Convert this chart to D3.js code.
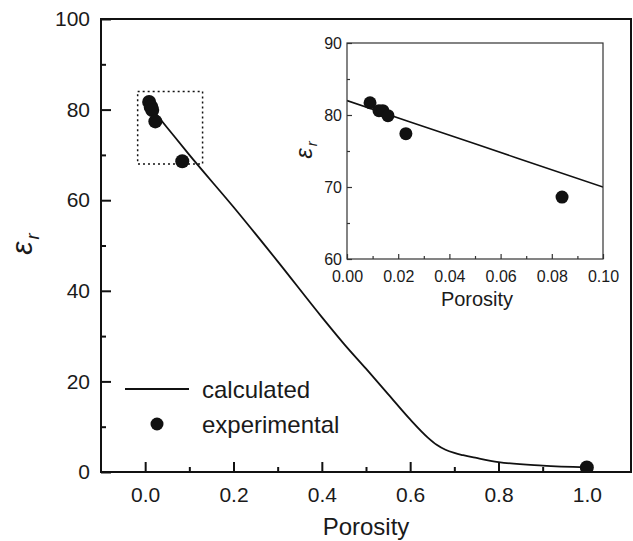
<!DOCTYPE html>
<html>
<head>
<meta charset="utf-8">
<script src="https://cdn.jsdelivr.net/npm/d3@7"></script>
<style>
  body { margin: 0; background: #fff; }
  svg { font-family: "Liberation Sans", Arial, sans-serif; }
</style>
</head>
<body>
<div id="chart"></div>
<script>
// calculated curve
const calcPorosity = [0, 0.05, 0.1, 0.2, 0.3, 0.4, 0.45, 0.5, 0.55, 0.6, 0.64, 0.66, 0.68, 0.7, 0.72, 0.75, 0.8, 0.9, 1.0]
const calcEps = [82, 76, 70, 58.5, 46.5, 34.2, 28.3, 22.8, 17.2, 11.6, 7.6, 6.0, 4.9, 4.2, 3.7, 3.1, 2.2, 1.4, 1.0]

// experimental points
const expPorosity = [0.009, 0.0125, 0.014, 0.016, 0.023, 0.084, 1.0]
const expEps = [81.7, 80.6, 80.6, 79.9, 77.4, 68.6, 1.0]

// zoom box drawn on the main plot
const zoomBoxX = [-0.017, 0.13]
const zoomBoxY = [68, 84]

// tick values
const mainXTicks = [0, 0.2, 0.4, 0.6, 0.8, 1.0]
const mainXMinor = [0.1, 0.3, 0.5, 0.7, 0.9]
const mainYTicks = [0, 20, 40, 60, 80, 100]
const mainYMinor = [10, 30, 50, 70, 90]
const insetXTicks = [0, 0.02, 0.04, 0.06, 0.08, 0.1]
const insetXMinor = [0.01, 0.03, 0.05, 0.07, 0.09]
const insetYTicks = [60, 70, 80, 90]
const insetYMinor = [65, 75, 85]

const legendLabels = ['calculated', 'experimental']

const calcData = calcPorosity.map((p, i) => ({ x: p, y: calcEps[i] }))
const expData = expPorosity.map((p, i) => ({ x: p, y: expEps[i] }))

const svg = d3.select('#chart').append('svg')
  .attr('width', 633)
  .attr('height', 541)

/**
 * Styles an axis group: no domain line, tick lines and labels set.
 */
function styleAxis (a, opt) {
  a.select('.domain').remove()
  a.selectAll('.tick line')
    .attr('stroke', opt.stroke)
    .attr('stroke-width', opt.tickWidth)
  a.selectAll('.tick text')
    .attr('font-size', opt.tickFont)
    .attr('fill', '#1a1a1a')
  a.attr('font-family', null)
}

/**
 * Draws a framed panel with inward ticks, curve and dots.
 */
function drawPanel (opt) {
  const g = svg.append('g')
  const x = d3.scaleLinear().domain(opt.xDomain).range(opt.xRange)
  const y = d3.scaleLinear().domain(opt.yDomain).range(opt.yRange)

  const clipId = 'clip-' + opt.id
  g.append('clipPath').attr('id', clipId)
    .append('rect')
    .attr('x', opt.xRange[0]).attr('y', opt.yRange[1])
    .attr('width', opt.xRange[1] - opt.xRange[0])
    .attr('height', opt.yRange[0] - opt.yRange[1])

  // x axis major + minor (ticks point inward)
  g.append('g')
    .attr('transform', 'translate(0,' + opt.yRange[0] + ')')
    .call(d3.axisBottom(x).tickValues(opt.xTicks)
      .tickSizeInner(-opt.major).tickSizeOuter(0).tickPadding(opt.xPad)
      .tickFormat(d3.format(opt.xFormat)))
    .call(a => styleAxis(a, opt))
  g.append('g')
    .attr('transform', 'translate(0,' + opt.yRange[0] + ')')
    .call(d3.axisBottom(x).tickValues(opt.xMinor)
      .tickSizeInner(-opt.minor).tickSizeOuter(0).tickFormat(''))
    .call(a => styleAxis(a, opt))

  // y axis major + minor
  g.append('g')
    .attr('transform', 'translate(' + opt.xRange[0] + ',0)')
    .call(d3.axisLeft(y).tickValues(opt.yTicks)
      .tickSizeInner(-opt.major).tickSizeOuter(0).tickPadding(opt.yPad))
    .call(a => styleAxis(a, opt))
  g.append('g')
    .attr('transform', 'translate(' + opt.xRange[0] + ',0)')
    .call(d3.axisLeft(y).tickValues(opt.yMinor)
      .tickSizeInner(-opt.minor).tickSizeOuter(0).tickFormat(''))
    .call(a => styleAxis(a, opt))

  // curve
  const line = d3.line().x(d => x(d.x)).y(d => y(d.y)).curve(d3.curveMonotoneX)
  g.append('path')
    .datum(calcData)
    .attr('clip-path', 'url(#' + clipId + ')')
    .attr('d', line)
    .attr('fill', 'none')
    .attr('stroke', '#111')
    .attr('stroke-width', opt.lineWidth)

  // dots
  g.append('g')
    .attr('clip-path', 'url(#' + clipId + ')')
    .selectAll('circle')
    .data(expData.filter(d => d.x <= opt.xDomain[1]))
    .enter()
    .append('circle')
    .attr('cx', d => x(d.x))
    .attr('cy', d => y(d.y))
    .attr('r', opt.dotR)
    .attr('fill', '#111')

  // frame
  g.append('rect')
    .attr('x', opt.xRange[0]).attr('y', opt.yRange[1])
    .attr('width', opt.xRange[1] - opt.xRange[0])
    .attr('height', opt.yRange[0] - opt.yRange[1])
    .attr('fill', 'none')
    .attr('stroke', opt.stroke)
    .attr('stroke-width', opt.frameWidth)

  // x title
  g.append('text')
    .attr('x', (opt.xRange[0] + opt.xRange[1]) / 2 + opt.titleDx)
    .attr('y', opt.xTitleY)
    .attr('text-anchor', 'middle')
    .attr('font-size', opt.titleFont)
    .attr('fill', '#1a1a1a')
    .text('Porosity')

  // y title, epsilon with subscript r
  const yt = g.append('text')
    .attr('transform', 'translate(' + opt.yTitlePos[0] + ',' + opt.yTitlePos[1] + ') rotate(-90)')
    .attr('text-anchor', 'middle')
    .attr('font-style', 'italic')
    .attr('fill', '#1a1a1a')
  yt.append('tspan').attr('font-size', opt.epsFont).text('ε')
  yt.append('tspan').attr('font-size', opt.epsFont * 0.62).attr('dy', opt.epsFont * 0.22).attr('dx', 2).text('r')

  return { g, x, y }
}

const main = drawPanel({
  id: 'main',
  xDomain: [-0.1, 1.1],
  xRange: [101, 631],
  yDomain: [0, 100],
  yRange: [472, 19],
  xTicks: mainXTicks,
  xMinor: mainXMinor,
  yTicks: mainYTicks,
  yMinor: mainYMinor,
  xFormat: '.1f',
  major: 10,
  minor: 5,
  xPad: 15,
  yPad: 11,
  tickFont: 21,
  tickWidth: 2,
  stroke: '#111',
  frameWidth: 2,
  lineWidth: 1.8,
  dotR: 7,
  titleFont: 24,
  titleDx: 0,
  xTitleY: 535,
  yTitlePos: [32, 244],
  epsFont: 30
})

// dotted zoom box
main.g.append('rect')
  .attr('x', main.x(zoomBoxX[0]))
  .attr('y', main.y(zoomBoxY[1]))
  .attr('width', main.x(zoomBoxX[1]) - main.x(zoomBoxX[0]))
  .attr('height', main.y(zoomBoxY[0]) - main.y(zoomBoxY[1]))
  .attr('fill', 'none')
  .attr('stroke', '#111')
  .attr('stroke-width', 1.5)
  .attr('stroke-dasharray', '2,3')

// inset background so the main curve doesn't show through
svg.append('rect')
  .attr('x', 347).attr('y', 43).attr('width', 256).attr('height', 216)
  .attr('fill', '#fff')

drawPanel({
  id: 'inset',
  xDomain: [0, 0.1],
  xRange: [347, 603],
  yDomain: [60, 90],
  yRange: [259, 43],
  xTicks: insetXTicks,
  xMinor: insetXMinor,
  yTicks: insetYTicks,
  yMinor: insetYMinor,
  xFormat: '.2f',
  major: 5,
  minor: 3,
  xPad: 11.5,
  yPad: 5,
  tickFont: 16,
  tickWidth: 1.2,
  stroke: '#333',
  frameWidth: 1.2,
  lineWidth: 1.6,
  dotR: 6.5,
  titleFont: 20,
  titleDx: 2,
  xTitleY: 306,
  yTitlePos: [312, 150],
  epsFont: 24
})

// legend
const legend = svg.append('g').attr('transform', 'translate(125,389)')
legend.append('line')
  .attr('x1', 0).attr('x2', 64).attr('y1', 0).attr('y2', 0)
  .attr('stroke', '#111').attr('stroke-width', 1.8)
legend.append('circle')
  .attr('cx', 32).attr('cy', 35).attr('r', 6.5).attr('fill', '#111')
legend.selectAll('text.lbl')
  .data(legendLabels)
  .enter()
  .append('text')
  .attr('class', 'lbl')
  .attr('x', 77)
  .attr('y', (d, i) => 9 + i * 35)
  .attr('font-size', 24)
  .attr('fill', '#1a1a1a')
  .text(d => d)
</script>
</body>
</html>
